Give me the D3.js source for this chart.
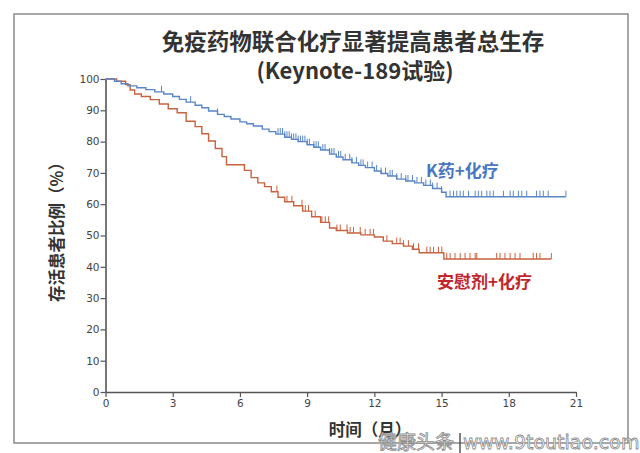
<!DOCTYPE html>
<html>
<head>
<meta charset="utf-8">
<script src="https://cdn.jsdelivr.net/npm/d3@7"></script>
<style>
  body { margin: 0; background: #fff; }
  svg { display: block; }
</style>
</head>
<body>
<svg></svg>
<script>
let width = 640,
    height = 453;

// K药+化疗 (blue) Kaplan-Meier steps
const blueTime = [0, 0.4, 0.7, 1.0, 1.4, 1.8, 2.2, 2.6, 3.0, 3.3, 3.6, 4.0, 4.3, 4.6, 5.0, 5.3, 5.6, 6.0, 6.3, 6.6, 7.0, 7.3, 7.6, 8.0, 8.3, 8.6, 9.0, 9.3, 9.6, 10.0, 10.3, 10.6, 11.0, 11.3, 11.6, 12.0, 12.3, 12.6, 13.0, 13.4, 13.8, 14.2, 14.6, 15.0, 15.2];
const blueSurv = [100, 99.3, 98.5, 97.8, 97.2, 96.6, 95.9, 95.2, 94.4, 93.5, 92.6, 91.6, 90.8, 89.8, 88.7, 88.0, 87.2, 86.3, 85.7, 85.0, 84.0, 83.2, 82.4, 81.4, 80.7, 80.0, 79.0, 78.2, 77.3, 76.0, 75.1, 74.2, 73.2, 72.4, 71.7, 70.6, 69.8, 69.0, 68.0, 67.4, 66.8, 66.0, 65.0, 63.8, 62.4];
const blueEnd = 20.55;
const blueCensor = [2.5, 3.8, 5.0, 7.7, 7.8, 7.9, 8.0, 8.1, 8.2, 8.3, 8.4, 8.5, 8.6, 8.7, 8.8, 8.9, 9.0, 9.1, 9.3, 9.4, 9.5, 9.7, 9.8, 10.0, 10.1, 10.2, 10.4, 10.5, 10.7, 10.9, 11.0, 11.2, 11.4, 11.5, 11.7, 11.9, 12.1, 12.3, 12.5, 12.7, 12.8, 13.0, 13.2, 13.4, 13.5, 13.7, 13.9, 14.1, 14.3, 14.5, 14.6, 14.8, 15.0, 15.38, 15.53, 15.68, 15.83, 15.97, 16.2, 16.5, 16.64, 16.79, 17.02, 17.16, 17.31, 17.76, 18.06, 18.2, 18.43, 18.58, 18.8, 19.24, 19.39, 19.54, 19.76, 20.55];

// 安慰剂+化疗 (red)
const redTime = [0, 0.5, 0.9, 1.1, 1.3, 1.6, 2.0, 2.4, 2.8, 3.2, 3.6, 4.0, 4.3, 4.6, 4.9, 5.2, 5.4, 6.2, 6.5, 6.8, 7.1, 7.4, 7.7, 8.0, 8.4, 8.8, 9.2, 9.6, 10.0, 10.3, 10.8, 11.4, 12.0, 12.4, 12.8, 13.3, 13.7, 14.0, 15.1];
const redSurv = [100, 99.3, 98.2, 96.5, 95.2, 94.4, 93.4, 92.0, 90.5, 89.2, 86.5, 84.8, 82.5, 80.2, 77.8, 75.2, 72.6, 70.8, 68.5, 66.8, 65.6, 64.0, 62.2, 60.8, 59.5, 57.8, 56.0, 54.2, 52.4, 51.6, 50.8, 50.2, 49.5, 48.2, 47.4, 46.6, 45.6, 44.5, 42.5];
const redEnd = 19.9;
const redCensor = [7.65, 8.1, 8.32, 8.77, 8.92, 9.06, 9.36, 9.66, 9.81, 9.96, 10.33, 10.48, 10.78, 10.92, 11.07, 11.37, 11.59, 11.81, 11.96, 12.56, 13.0, 13.15, 13.3, 13.52, 13.75, 13.97, 14.34, 14.49, 14.64, 14.86, 15.01, 15.23, 15.38, 15.6, 15.83, 16.05, 16.27, 16.5, 16.57, 17.46, 17.61, 17.83, 18.06, 18.28, 18.5, 19.09, 19.24, 19.39, 19.9];

const xTicks = [0, 3, 6, 9, 12, 15, 18, 21];
const yTicks = [0, 10, 20, 30, 40, 50, 60, 70, 80, 90, 100];

let svg = d3.select("svg")
    .attr("width", width)
    .attr("height", height);

// outer frame
svg.append("rect")
    .attr("x", 14).attr("y", 14)
    .attr("width", 614).attr("height", 429)
    .attr("fill", "none")
    .attr("stroke", "#8a8a8a")
    .attr("stroke-width", 1.5);

// title
svg.append("text")
    .attr("x", 353).attr("y", 50)
    .attr("text-anchor", "middle")
    .style("font-family", "Noto Sans CJK SC")
    .style("font-weight", "bold")
    .style("font-size", "22.5px")
    .attr("fill", "#333")
    .text("免疫药物联合化疗显著提高患者总生存");
svg.append("text")
    .attr("x", 355).attr("y", 79)
    .attr("text-anchor", "middle")
    .style("font-family", "Noto Sans CJK SC")
    .style("font-weight", "bold")
    .style("font-size", "22px")
    .attr("fill", "#333")
    .text("(Keynote-189试验)");

let x = d3.scaleLinear().domain([0, 21]).range([105.5, 576]);
let y = d3.scaleLinear().domain([0, 100]).range([392, 79]);

let xAxis = svg.append("g")
    .attr("transform", "translate(0,392)")
    .call(d3.axisBottom(x).tickValues(xTicks).tickSize(5).tickSizeOuter(0));
let yAxis = svg.append("g")
    .attr("transform", "translate(105.5,0)")
    .call(d3.axisLeft(y).tickValues(yTicks).tickSize(5).tickSizeOuter(0));

[xAxis, yAxis].forEach(a => {
    a.select(".domain").attr("stroke", "#555").attr("stroke-width", 1.6);
    a.selectAll(".tick line").attr("stroke", "#555").attr("stroke-width", 1.2);
    a.selectAll(".tick text")
        .attr("fill", "#444")
        .style("font-family", "DejaVu Sans")
        .style("font-size", "10.5px");
});
yAxis.selectAll(".tick text").attr("x", -6);
xAxis.selectAll(".tick text").attr("y", 8);

// axis titles
svg.append("text")
    .attr("transform", "translate(63,228) rotate(-90)")
    .attr("text-anchor", "middle")
    .style("font-family", "Noto Sans CJK SC")
    .style("font-weight", "bold")
    .style("font-size", "16.5px")
    .attr("fill", "#333")
    .text("存活患者比例（%）");
svg.append("text")
    .attr("x", 370).attr("y", 436)
    .attr("text-anchor", "middle")
    .style("font-family", "Noto Sans CJK SC")
    .style("font-weight", "bold")
    .style("font-size", "16.5px")
    .attr("fill", "#333")
    .text("时间（月）");

// survival value at a given time (step function)
function survAt(times, surv, t) {
    let i = d3.bisectRight(times, t) - 1;
    return surv[Math.max(0, i)];
}

function drawCurve(times, surv, end, censor, color) {
    let pts = times.map((t, i) => [t, surv[i]]);
    pts.push([end, surv[surv.length - 1]]);
    let line = d3.line()
        .x(d => x(d[0]))
        .y(d => y(d[1]))
        .curve(d3.curveStepAfter);
    svg.append("path")
        .datum(pts)
        .attr("d", line)
        .attr("fill", "none")
        .attr("stroke", color)
        .attr("stroke-width", 1.4);
    svg.append("g")
        .selectAll("line")
        .data(censor)
        .enter()
        .append("line")
        .attr("x1", d => x(d)).attr("x2", d => x(d))
        .attr("y1", d => y(survAt(times, surv, d)))
        .attr("y2", d => y(survAt(times, surv, d)) - 6)
        .attr("stroke", color)
        .attr("stroke-width", 1);
}

drawCurve(redTime, redSurv, redEnd, redCensor, "#c9623f");
drawCurve(blueTime, blueSurv, blueEnd, blueCensor, "#5a86c6");

// series labels
svg.append("text")
    .attr("x", 426).attr("y", 177)
    .style("font-family", "Noto Sans CJK SC")
    .style("font-weight", "bold")
    .style("font-size", "17px")
    .attr("fill", "#4a78c0")
    .text("K药+化疗");
svg.append("text")
    .attr("x", 437).attr("y", 288)
    .style("font-family", "Noto Sans CJK SC")
    .style("font-weight", "bold")
    .style("font-size", "17px")
    .attr("fill", "#c0262d")
    .text("安慰剂+化疗");

// watermark
svg.append("text")
    .attr("x", 378).attr("y", 449)
    .style("font-family", "Noto Sans CJK SC")
    .style("font-size", "19px")
    .attr("fill", "#fff")
    .attr("stroke", "#8c8c8c")
    .attr("stroke-width", 0.8)
    .text("健康头条");
svg.append("line")
    .attr("x1", 460).attr("x2", 460)
    .attr("y1", 433).attr("y2", 453)
    .attr("stroke", "#555").attr("stroke-width", 1.5);
svg.append("text")
    .attr("x", 463).attr("y", 449)
    .style("font-family", "DejaVu Sans")
    .style("font-size", "19px")
    .attr("fill", "#fff")
    .attr("stroke", "#8c8c8c")
    .attr("stroke-width", 0.8)
    .text("www.9toutiao.com");
</script>
</body>
</html>
